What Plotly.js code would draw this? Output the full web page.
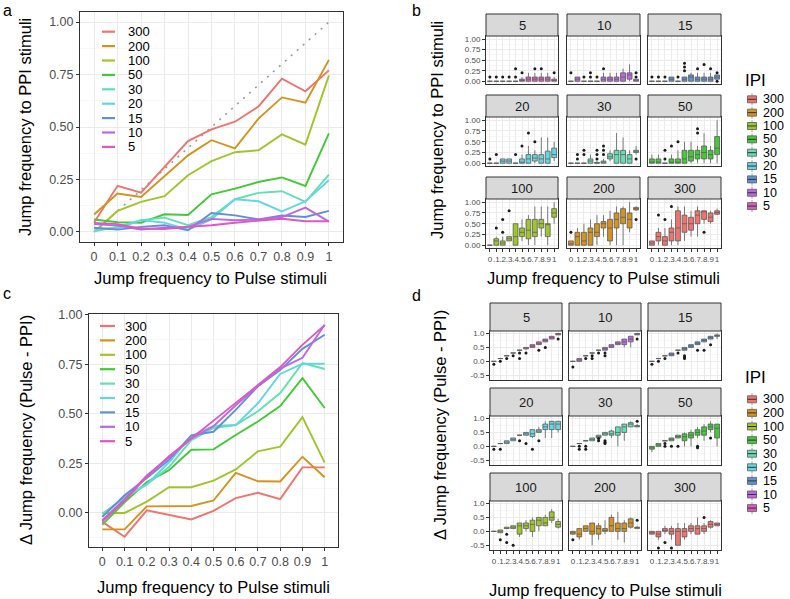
<!DOCTYPE html>
<html><head><meta charset="utf-8">
<script src="https://cdn.plot.ly/plotly-3.0.1.min.js"></script>
<style>html,body{margin:0;padding:0;background:#fff}</style>
</head><body><div id="chart" style="width:790px;height:599px"></div>
<script>
// ---------------- data ----------------
const pulse = [0,0.1,0.2,0.3,0.4,0.5,0.6,0.7,0.8,0.9,1];
const pulseLabels = ['0','0.1','0.2','0.3','0.4','0.5','0.6','0.7','0.8','0.9','1'];
const facetTickLabels = ['0','.1','.2','.3','.4','.5','.6','.7','.8','.9','1'];
const ipiLevels = ['300','200','100','50','30','20','15','10','5'];
const ipiColors = ['#F0736D','#D4921F','#9EC62A','#42C936','#62DFB3','#63D6E2','#5E91D6','#BE66E6','#E157C2'];
const facetOrder = ['5','10','15','20','30','50','100','200','300'];
const identityLine = [0,1];

// panel a: mean jump frequency to PPI stimuli
const ppiMean300 = [0.045,0.22,0.187,0.31,0.433,0.489,0.525,0.598,0.73,0.67,0.77];
const ppiMean200 = [0.083,0.183,0.167,0.267,0.365,0.437,0.398,0.54,0.641,0.616,0.82];
const ppiMean100 = [0.0,0.1,0.143,0.17,0.27,0.337,0.38,0.389,0.465,0.416,0.746];
const ppiMean50  = [0.059,0.046,0.044,0.084,0.081,0.179,0.206,0.238,0.26,0.219,0.47];
const ppiMean30  = [0.003,0.024,0.056,0.068,0.032,0.071,0.156,0.186,0.194,0.143,0.273];
const ppiMean20  = [0.016,0.016,0.056,0.044,0.011,0.06,0.156,0.146,0.098,0.146,0.246];
const ppiMean15  = [0.02,0.011,0.024,0.032,0.008,0.09,0.079,0.06,0.078,0.071,0.1];
const ppiMean10  = [0.037,0.03,0.011,0.02,0.024,0.062,0.056,0.059,0.071,0.116,0.049];
const ppiMean5   = [0.043,0.037,0.016,0.014,0.024,0.032,0.044,0.054,0.063,0.051,0.051];

// panel c: mean delta (Pulse - PPI)
const deltaMean300 = [-0.045,-0.12,0.013,-0.01,-0.033,0.011,0.075,0.102,0.07,0.23,0.23];
const deltaMean200 = [-0.083,-0.083,0.033,0.033,0.035,0.063,0.202,0.16,0.159,0.284,0.18];
const deltaMean100 = [0,0,0.057,0.13,0.13,0.163,0.22,0.311,0.335,0.484,0.254];
const deltaMean50  = [-0.059,0.054,0.156,0.216,0.319,0.321,0.394,0.462,0.54,0.681,0.53];
const deltaMean30  = [-0.003,0.076,0.144,0.232,0.368,0.429,0.444,0.514,0.606,0.757,0.727];
const deltaMean20  = [-0.016,0.084,0.144,0.256,0.389,0.44,0.444,0.554,0.702,0.754,0.754];
const deltaMean15  = [-0.02,0.089,0.176,0.268,0.392,0.41,0.521,0.64,0.722,0.829,0.9];
const deltaMean10  = [-0.037,0.07,0.189,0.28,0.376,0.438,0.544,0.641,0.729,0.784,0.951];
const deltaMean5   = [-0.043,0.063,0.184,0.286,0.376,0.468,0.556,0.646,0.737,0.849,0.949];

// panel b boxes: [lower whisker, q1, median, q3, upper whisker] per pulse value
const ppiBox5 = [[0,0,0,0,0],[0,0,0,0,0],[0,0,0,0,0],[0,0,0,0,0],[0,0,0,0,0],[0,0,0,0.05,0.1],[0,0,0.05,0.1,0.2],[0,0,0.05,0.1,0.2],[0,0,0.05,0.1,0.2],[0,0,0.05,0.1,0.2],[0,0,0,0.05,0.1]];
const ppiOut5 = [[0,0.1],[0.1,0.1],[0.2,0.1],[0.3,0.1],[0.4,0.1],[0.4,0.3],[0.5,0.2],[0.7,0.3],[0.8,0.3],[1,0.2]];
const ppiBox10 = [[0,0,0,0,0],[0,0,0.05,0.1,0.1],[0,0,0,0,0],[0,0,0,0,0],[0,0,0,0,0],[0,0,0.05,0.1,0.2],[0,0,0.05,0.1,0.2],[0,0,0.05,0.1,0.2],[0,0,0.1,0.2,0.3],[0,0.05,0.15,0.2,0.4],[0,0,0,0.05,0.05]];
const ppiOut10 = [[0,0.2],[0.2,0.1],[0.3,0.1],[0.3,0.2],[0.4,0.1],[0.5,0.3],[1,0.1],[1,0.2]];
const ppiBox15 = [[0,0,0,0,0],[0,0,0,0,0],[0,0,0,0,0],[0,0,0.05,0.1,0.1],[0,0,0,0,0],[0,0,0.05,0.1,0.1],[0,0,0.1,0.15,0.2],[0,0,0.05,0.1,0.2],[0,0,0.05,0.1,0.2],[0,0,0.05,0.1,0.2],[0.05,0.05,0.1,0.15,0.15]];
const ppiOut15 = [[0,0.1],[0.1,0.1],[0.2,0.1],[0.4,0.1],[0.5,0.25],[0.5,0.34],[0.5,0.43],[0.7,0.3],[0.8,0.4],[0.9,0.3],[1,0.2],[1,0]];
const ppiBox20 = [[0,0,0,0,0],[0,0,0,0,0],[0,0,0.05,0.1,0.1],[0,0,0.05,0.1,0.1],[0,0,0,0,0],[0,0,0,0.1,0.2],[0,0,0.1,0.2,0.4],[0,0.05,0.12,0.2,0.3],[0,0,0.1,0.2,0.6],[0,0,0.1,0.28,0.6],[0.05,0.13,0.2,0.35,0.5]];
const ppiOut20 = [[0,0.1],[0.1,0.2],[0.4,0.2],[0.5,0.4],[0.6,0.7],[0.7,0.5]];
const ppiBox30 = [[0,0,0,0,0],[0,0,0,0,0],[0,0,0,0,0],[0,0,0.05,0.1,0.2],[0,0,0,0.02,0.05],[0,0,0.02,0.05,0.1],[0.05,0.1,0.15,0.22,0.3],[0,0,0.2,0.3,0.7],[0,0,0.2,0.3,0.6],[0,0,0.1,0.2,0.3],[0.2,0.25,0.28,0.3,0.4]];
const ppiOut30 = [[0.1,0.1],[0.1,0.2],[0.2,0.2],[0.2,0.3],[0.4,0.1],[0.4,0.2],[0.4,0.3],[0.5,0.2],[0.5,0.3],[0.5,0.4],[1,0.1]];
const ppiBox50 = [[0,0,0,0.1,0.2],[0,0,0,0.1,0.2],[0,0,0,0,0],[0,0,0,0.1,0.2],[0,0,0,0.1,0.3],[0,0,0.1,0.3,0.5],[0,0.05,0.15,0.3,0.5],[0,0.1,0.2,0.3,0.4],[0,0.1,0.25,0.4,0.7],[0,0.1,0.2,0.3,0.4],[0,0.2,0.35,0.62,1.0]];
const ppiOut50 = [[0.2,0.1],[0.2,0.3],[0.3,0.4],[0.4,0.5],[0.7,0.7],[0.7,0.8]];
const ppiBox100 = [[0,0,0,0,0],[0,0,0.1,0.15,0.2],[0,0,0.05,0.1,0.2],[0.1,0.1,0.15,0.2,0.2],[0,0,0.2,0.5,0.5],[0.1,0.2,0.3,0.4,0.6],[0,0.15,0.35,0.6,0.7],[0,0.2,0.3,0.6,0.9],[0.2,0.4,0.5,0.6,0.9],[0,0.2,0.5,0.5,0.9],[0.5,0.65,0.75,0.85,1.0]];
const ppiOut100 = [[0.1,0.4],[0.2,0.3],[0.2,0.6],[0.3,0.8]];
const ppiBox200 = [[0,0,0.03,0.1,0.1],[0,0,0.2,0.3,0.4],[0,0,0.1,0.3,0.5],[0,0,0.3,0.4,0.6],[0,0.2,0.3,0.5,0.7],[0.2,0.4,0.5,0.55,0.7],[0,0.1,0.4,0.6,0.8],[0,0.4,0.6,0.75,0.9],[0,0.5,0.65,0.85,0.9],[0.3,0.4,0.6,0.75,1.0],[0.8,0.82,0.85,0.88,0.9]];
const ppiOut200 = [[0,0.3],[1,0.6]];
const ppiBox300 = [[0,0,0.05,0.1,0.1],[0,0.1,0.2,0.3,0.4],[0,0,0.1,0.2,0.4],[0,0.1,0.3,0.4,0.6],[0,0.1,0.4,0.8,0.9],[0.1,0.3,0.5,0.7,0.9],[0.2,0.35,0.5,0.65,0.8],[0.2,0.5,0.7,0.8,0.9],[0.5,0.6,0.8,0.8,0.8],[0.5,0.55,0.65,0.75,0.8],[0.7,0.72,0.76,0.8,0.85]];
const ppiOut300 = [[0.1,0.7],[0.2,0.6],[0.3,0.9],[0.8,0.3]];

// panel d boxes
const deltaBox5 = [[0,0,0,0,0],[0.1,0.1,0.1,0.1,0.1],[0.2,0.2,0.2,0.2,0.2],[0.3,0.3,0.3,0.3,0.3],[0.4,0.4,0.4,0.4,0.4],[0.4,0.45,0.5,0.5,0.5],[0.5,0.5,0.55,0.6,0.6],[0.6,0.6,0.65,0.7,0.7],[0.7,0.7,0.75,0.8,0.8],[0.8,0.8,0.85,0.9,0.9],[0.95,0.95,1,1,1]];
const deltaOut5 = [[0,-0.1],[0.1,0],[0.2,0.1],[0.3,0.2],[0.4,0.3],[0.4,0.1],[0.5,0.3],[0.7,0.4],[0.8,0.5],[1,0.8]];
const deltaBox10 = [[0,0,0,0,0],[0,0,0.05,0.1,0.1],[0.2,0.2,0.2,0.2,0.2],[0.3,0.3,0.3,0.3,0.3],[0.4,0.4,0.4,0.4,0.4],[0.4,0.4,0.45,0.5,0.5],[0.5,0.5,0.55,0.6,0.6],[0.6,0.6,0.65,0.7,0.7],[0.5,0.6,0.7,0.8,0.8],[0.5,0.7,0.8,0.9,0.9],[0.95,0.95,1,1,1]];
const deltaOut10 = [[0,-0.2],[0.2,0.1],[0.3,0.2],[0.3,0.1],[0.4,0.3],[0.5,0.3],[0.5,0.2],[1,0.8]];
const deltaBox15 = [[0,0,0,0,0],[0.1,0.1,0.1,0.1,0.1],[0.2,0.2,0.2,0.2,0.2],[0.2,0.2,0.25,0.3,0.3],[0.4,0.4,0.4,0.4,0.4],[0.4,0.4,0.45,0.5,0.5],[0.5,0.5,0.55,0.6,0.6],[0.6,0.6,0.65,0.7,0.7],[0.7,0.7,0.75,0.8,0.8],[0.8,0.8,0.85,0.9,0.9],[0.8,0.9,0.9,0.95,1]];
const deltaOut15 = [[0,-0.1],[0.1,0],[0.2,0.1],[0.4,0.3],[0.5,0.1],[0.5,0.15],[0.5,0.2],[0.7,0.4],[0.8,0.4],[0.9,0.6]];
const deltaBox20 = [[0,0,0,0,0],[0.1,0.1,0.1,0.1,0.1],[0.1,0.1,0.15,0.2,0.2],[0.2,0.2,0.25,0.3,0.3],[0.4,0.4,0.4,0.4,0.4],[0.4,0.4,0.45,0.5,0.5],[0.3,0.35,0.45,0.6,0.6],[0.5,0.5,0.55,0.6,0.7],[0.3,0.6,0.7,0.8,0.9],[0.3,0.6,0.8,0.9,0.9],[0.5,0.6,0.8,0.9,0.9]];
const deltaOut20 = [[0,-0.1],[0.1,-0.1],[0.4,0.2],[0.5,0.1],[0.6,-0.1],[0.7,0.2]];
const deltaBox30 = [[0,0,0,0,0],[0.1,0.1,0.1,0.1,0.1],[0.2,0.2,0.2,0.2,0.2],[0.2,0.2,0.25,0.3,0.3],[0.3,0.3,0.35,0.4,0.4],[0.4,0.4,0.45,0.5,0.5],[0.3,0.4,0.45,0.55,0.6],[0,0.4,0.5,0.7,0.7],[0.2,0.5,0.7,0.8,0.8],[0.7,0.7,0.8,0.85,0.9],[0.7,0.7,0.72,0.75,0.8]];
const deltaOut30 = [[0.1,0],[0.1,-0.1],[0.2,0],[0.2,-0.1],[0.4,0.2],[0.4,0.28],[0.5,0.1],[0.5,0.15],[0.5,0.2],[1,0.9]];
const deltaBox50 = [[-0.2,-0.1,-0.05,0,0],[0,0,0.05,0.1,0.1],[0.2,0.2,0.2,0.2,0.2],[0.2,0.2,0.25,0.3,0.3],[0.3,0.3,0.35,0.4,0.4],[0,0.2,0.35,0.45,0.5],[0,0.3,0.4,0.5,0.6],[0.3,0.4,0.5,0.6,0.7],[0.2,0.4,0.55,0.7,0.8],[0.5,0.6,0.7,0.8,0.9],[0,0.3,0.65,0.8,0.8]];
const deltaOut50 = [[0.2,0.1],[0.2,0],[0.3,0],[0.4,0],[0.7,0],[0.7,-0.05],[0.9,0.3]];
const deltaBox100 = [[0,0,0,0,0],[-0.05,-0.05,0,0.05,0.05],[0.1,0.1,0.1,0.15,0.15],[0.1,0.1,0.15,0.2,0.2],[-0.2,-0.1,0.2,0.3,0.3],[0,0.1,0.2,0.3,0.4],[-0.2,0,0.25,0.4,0.5],[0,0.2,0.4,0.5,0.5],[0.2,0.2,0.3,0.5,0.6],[0.3,0.4,0.5,0.7,0.8],[0.1,0.15,0.25,0.35,0.45]];
const deltaOut100 = [[0.1,-0.3],[0.2,-0.1],[0.2,-0.4],[0.3,-0.5]];
const deltaBox200 = [[-0.1,-0.1,-0.05,0,0],[-0.3,-0.2,-0.1,0.1,0.1],[0,0,0.1,0.2,0.2],[-0.5,-0.1,0,0.3,0.3],[-0.3,-0.1,0.1,0.2,0.3],[-0.1,0,0,0.1,0.4],[0,0,0.2,0.5,0.6],[-0.3,0,0.1,0.3,0.7],[-0.4,0,0.1,0.3,0.4],[0.1,0.15,0.3,0.45,0.5],[0.1,0.1,0.15,0.15,0.2]];
const deltaOut200 = [[0,-0.3],[1,0.4]];
const deltaBox300 = [[-0.1,-0.1,-0.05,0,0],[-0.3,-0.2,-0.1,0,0],[-0.1,0,0,0.1,0.2],[-0.3,-0.1,0,0.1,0.2],[-0.5,-0.5,0,0.1,0.3],[-0.3,-0.2,0,0.1,0.3],[-0.1,0,0.1,0.2,0.3],[-0.1,-0.1,0.1,0.2,0.5],[-0.1,0,0.1,0.2,0.3],[0.1,0.15,0.25,0.35,0.4],[0.2,0.2,0.25,0.3,0.3]];
const deltaOut300 = [[0.1,-0.6],[0.2,-0.4],[0.3,-0.6],[0.8,0.5]];

// lookup tables built from the arrays above
const ppiMeans = {'300':ppiMean300,'200':ppiMean200,'100':ppiMean100,'50':ppiMean50,'30':ppiMean30,'20':ppiMean20,'15':ppiMean15,'10':ppiMean10,'5':ppiMean5};
const deltaMeans = {'300':deltaMean300,'200':deltaMean200,'100':deltaMean100,'50':deltaMean50,'30':deltaMean30,'20':deltaMean20,'15':deltaMean15,'10':deltaMean10,'5':deltaMean5};
const ppiBoxes = {'5':ppiBox5,'10':ppiBox10,'15':ppiBox15,'20':ppiBox20,'30':ppiBox30,'50':ppiBox50,'100':ppiBox100,'200':ppiBox200,'300':ppiBox300};
const ppiOuts = {'5':ppiOut5,'10':ppiOut10,'15':ppiOut15,'20':ppiOut20,'30':ppiOut30,'50':ppiOut50,'100':ppiOut100,'200':ppiOut200,'300':ppiOut300};
const deltaBoxes = {'5':deltaBox5,'10':deltaBox10,'15':deltaBox15,'20':deltaBox20,'30':deltaBox30,'50':deltaBox50,'100':deltaBox100,'200':deltaBox200,'300':deltaBox300};
const deltaOuts = {'5':deltaOut5,'10':deltaOut10,'15':deltaOut15,'20':deltaOut20,'30':deltaOut30,'50':deltaOut50,'100':deltaOut100,'200':deltaOut200,'300':deltaOut300};
const colorOf = {};
ipiLevels.forEach((l,i)=>colorOf[l]=ipiColors[i]);

// ---------------- layout helpers ----------------
const W = 790, H = 599;
const px = v => v / W;
const py = v => 1 - v / H;
const FONT = 'Liberation Sans, Arial, Helvetica, sans-serif';
const GRID = '#EBEBEB', MINOR = '#F2F2F2', BORDER = '#333333', TICKTXT = '#4D4D4D';

const traces = [];
const shapes = [];
const annotations = [];
const layout = {
  width: W, height: H, margin: {l:0,r:0,t:0,b:0},
  paper_bgcolor: '#fff', plot_bgcolor: '#fff', showlegend: false,
  boxmode: 'overlay', font: {family: FONT, color: '#000'},
  shapes: shapes, annotations: annotations
};

function baseX(domain, anchor, showLabels, labels, fontSize) {
  return {domain: [px(domain[0]), px(domain[1])], anchor: anchor, range: [-0.06, 1.06],
    tickmode: 'array', tickvals: pulse, ticktext: labels, showticklabels: showLabels,
    ticks: showLabels ? 'outside' : '', ticklen: 3, tickwidth: 1, tickcolor: BORDER, tickangle: 0,
    tickfont: {size: fontSize, color: TICKTXT, family: FONT},
    showgrid: true, gridcolor: GRID, gridwidth: 1, zeroline: false,
    showline: true, mirror: true, linecolor: BORDER, linewidth: 1, fixedrange: true};
}
function baseY(domain, anchor, showLabels, range, vals, texts, minorVals, fontSize) {
  return {domain: [py(domain[1]), py(domain[0])], anchor: anchor, range: range,
    tickmode: 'array', tickvals: vals, ticktext: texts, showticklabels: showLabels,
    ticks: showLabels ? 'outside' : '', ticklen: 3, tickwidth: 1, tickcolor: BORDER,
    tickfont: {size: fontSize, color: TICKTXT, family: FONT},
    showgrid: true, gridcolor: GRID, gridwidth: 1, zeroline: false,
    minor: {tickmode: 'array', tickvals: minorVals, showgrid: true, gridcolor: MINOR, gridwidth: 0.6, ticks: ''},
    showline: true, mirror: true, linecolor: BORDER, linewidth: 1, fixedrange: true};
}
function text(t, x, y, size, opts) {
  annotations.push(Object.assign({text: t, x: px(x), y: py(y), xref: 'paper', yref: 'paper',
    showarrow: false, xanchor: 'center', yanchor: 'middle', borderpad: 0,
    font: {size: size, family: FONT, color: '#000'}}, opts || {}));
}

// ---------------- panel a ----------------
layout.xaxis = baseX([80, 343], 'y', true, pulseLabels, 12.5);
layout.yaxis = baseY([12, 242], 'x', true, [-0.048, 1.048], [0,0.25,0.5,0.75,1], ['0.00','0.25','0.50','0.75','1.00'], [0.125,0.375,0.625,0.875], 12.5);
traces.push({type:'scatter', mode:'lines', x: identityLine, y: identityLine, xaxis:'x', yaxis:'y',
  line: {color:'#9A9A9A', width:1.6, dash:'2px,6px'}, hoverinfo:'skip'});
ipiLevels.forEach(l => traces.push({type:'scatter', mode:'lines', x: pulse, y: ppiMeans[l], xaxis:'x', yaxis:'y',
  line: {color: colorOf[l], width: 1.9}, hoverinfo:'skip'}));

// ---------------- panel c ----------------
layout.xaxis2 = baseX([89, 338], 'y2', true, pulseLabels, 12.5);
layout.yaxis2 = baseY([314, 547], 'x2', true, [-0.172, 1.005], [0,0.25,0.5,0.75,1], ['0.00','0.25','0.50','0.75','1.00'], [-0.125,0.125,0.375,0.625,0.875], 12.5);
ipiLevels.forEach(l => traces.push({type:'scatter', mode:'lines', x: pulse, y: deltaMeans[l], xaxis:'x2', yaxis:'y2',
  line: {color: colorOf[l], width: 1.9}, hoverinfo:'skip'}));

// line legends (a, c)
function lineLegend(top, step, x0, x1, xt) {
  ipiLevels.forEach((l, i) => {
    const yy = top + step * i;
    shapes.push({type:'line', xref:'paper', yref:'paper', x0: px(x0), x1: px(x1), y0: py(yy), y1: py(yy),
      line: {color: colorOf[l], width: 2.2}});
    text(l, xt, yy, 13, {xanchor: 'left'});
  });
}
lineLegend(31.7, 14.4, 102, 115, 127);
lineLegend(326, 14.4, 100, 115, 124);

// ---------------- facets (b, d) ----------------
function facetPanel(startIdx, cols, rows, strips, boxes, outs, yRange, yVals, yTexts, yMinor) {
  facetOrder.forEach((lvl, k) => {
    const r = Math.floor(k / 3), c = k % 3, n = startIdx + k;
    const xa = 'xaxis' + n, ya = 'yaxis' + n;
    layout[xa] = baseX(cols[c], 'y' + n, r === 2, facetTickLabels, 8);
    layout[ya] = baseY(rows[r], 'x' + n, c === 0, yRange, yVals, yTexts, yMinor, 8);
    const st = boxes[lvl];
    traces.push({type:'box', x: pulse, lowerfence: st.map(s=>s[0]), q1: st.map(s=>s[1]), median: st.map(s=>s[2]),
      q3: st.map(s=>s[3]), upperfence: st.map(s=>s[4]), xaxis: 'x' + n, yaxis: 'y' + n,
      fillcolor: colorOf[lvl], line: {color: '#5C5C5C', width: 0.8}, whiskerwidth: 0, width: 0.075,
      boxpoints: false, hoverinfo: 'skip'});
    const o = outs[lvl];
    traces.push({type:'scatter', mode:'markers', x: o.map(p=>p[0]), y: o.map(p=>p[1]), xaxis: 'x' + n, yaxis: 'y' + n,
      marker: {size: 3, color: '#1A1A1A'}, hoverinfo: 'skip'});
    // strip
    shapes.push({type:'rect', xref:'paper', yref:'paper', x0: px(cols[c][0]), x1: px(cols[c][1]),
      y0: py(strips[r][1]), y1: py(strips[r][0]), fillcolor: '#D9D9D9', line: {color: BORDER, width: 1}});
    text(lvl, (cols[c][0] + cols[c][1]) / 2, (strips[r][0] + strips[r][1]) / 2 + 0.5, 13,
      {font: {size: 13, family: FONT, color: '#1A1A1A'}});
  });
}
facetPanel(3, [[486,558],[567,640],[648,721]], [[36,84],[117,166],[199,248]], [[14,36],[95,117],[177,199]],
  ppiBoxes, ppiOuts, [-0.065, 1.075], [0,0.25,0.5,0.75,1], ['0.00','0.25','0.50','0.75','1.00'], [0.125,0.375,0.625,0.875]);
facetPanel(12, [[490,562],[569,641],[648,721]], [[331,380],[416,465],[501,550]], [[303,331],[388,416],[473,501]],
  deltaBoxes, deltaOuts, [-0.67, 1.09], [-0.5,0,0.5,1], ['-0.5','0.0','0.5','1.0'], [-0.25,0.25,0.75]);

// box legends (b, d)
function boxLegend(titleY, top, step) {
  text('IPI', 744, titleY, 17, {xanchor: 'left'});
  ipiLevels.forEach((l, i) => {
    const yy = top + step * i;
    shapes.push({type:'line', xref:'paper', yref:'paper', x0: px(752), x1: px(752), y0: py(yy - 6), y1: py(yy + 6),
      line: {color: '#8A8A8A', width: 0.8}});
    shapes.push({type:'rect', xref:'paper', yref:'paper', x0: px(747.5), x1: px(756.5), y0: py(yy + 3.5), y1: py(yy - 3.5),
      fillcolor: colorOf[l], line: {color: '#5C5C5C', width: 0.8}});
    shapes.push({type:'line', xref:'paper', yref:'paper', x0: px(747.5), x1: px(756.5), y0: py(yy), y1: py(yy),
      line: {color: '#333', width: 1}});
    text(l, 762, yy, 12.5, {xanchor: 'left'});
  });
}
boxLegend(80, 99.3, 13.35);
boxLegend(377, 399.3, 13.6);

// ---------------- titles & panel labels ----------------
const TS = 16.5;
text('Jump frequency to Pulse stimuli', 211, 278, TS);
text('Jump frequency to PPI stimuli', 25, 127, TS, {textangle: -90});
text('Jump frequency to Pulse stimuli', 213, 587, TS);
text('Δ Jump frequency (Pulse - PPI)', 26, 430, TS, {textangle: -90});
text('Jump frequency to Pulse stimuli', 603, 278, TS);
text('Jump frequency to PPI stimuli', 437, 130, TS, {textangle: -90});
text('Jump frequency to Pulse stimuli', 605, 590, TS);
text('Δ Jump frequency (Pulse - PPI)', 440, 425, TS, {textangle: -90});
text('a', 7, 10, 16);
text('b', 416, 10, 16);
text('c', 7, 293, 16);
text('d', 416, 295, 16);

Plotly.newPlot('chart', traces, layout, {displayModeBar: false, staticPlot: true});
</script>
</body></html>
